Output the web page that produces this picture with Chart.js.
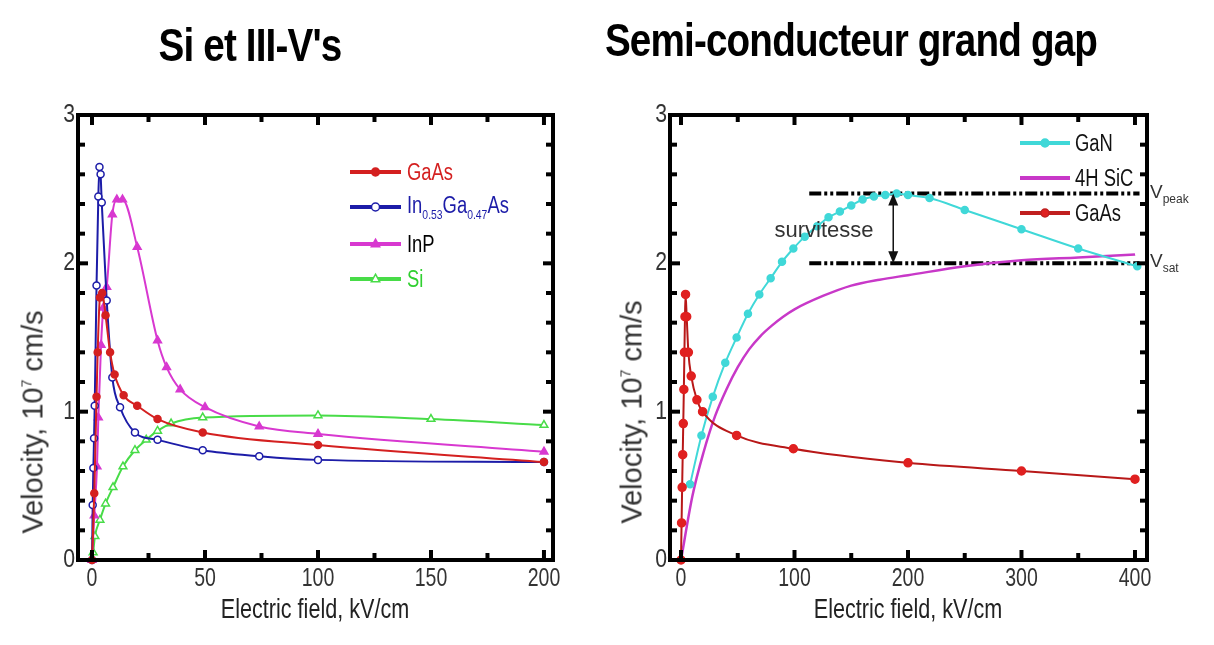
<!DOCTYPE html>
<html>
<head>
<meta charset="utf-8">
<script src="https://cdn.jsdelivr.net/npm/chart.js@4.4.1/dist/chart.umd.min.js"></script>
<style>
    body { margin: 0; width: 1214px; height: 645px; overflow: hidden; position: relative; background: #fff; font-family: Arial, "Liberation Sans", sans-serif; }
    canvas { position: absolute; top: 0; }
    #left-chart { left: 0; }
    #right-chart { left: 607px; }
    .txt { position: absolute; white-space: nowrap; line-height: 1; }
    .center { transform: translate(-50%, -50%) scaleX(0.8); }
    .lefty { transform-origin: 0 50%; transform: translate(0, -50%) scaleX(0.8); }
    .title { font-weight: bold; font-size: 46px; color: #000; letter-spacing: -1px; transform: translate(-50%, -50%) scaleX(0.84); }
    .xtitle { font-size: 27px; color: #222; }
    .ytitle { font-size: 29px; color: #333; transform: translate(-50%, -50%) rotate(-90deg); }
    .ytitle sup { font-size: 14px; }
    .leg { font-size: 23px; }
    .leg sub { font-size: 13px; vertical-align: -6px; }
    .note { font-size: 22px; color: #333; transform: translate(-50%, -50%); }
    .vlab { font-size: 19px; color: #333; transform: translate(0, -50%); }
    .vlab sub { font-size: 12px; vertical-align: -5px; }
</style>
</head>
<body>
<canvas id="left-chart" width="607" height="645"></canvas>
<canvas id="right-chart" width="607" height="645"></canvas>

<div class="txt title" style="left:250px; top:45px;">Si et III-V's</div>
<div class="txt title" style="left:851px; top:40px;">Semi-conducteur grand gap</div>

<div class="txt ytitle" style="left:33px; top:422px;">Velocity, 10<sup>7</sup> cm/s</div>
<div class="txt ytitle" style="left:632px; top:412px;">Velocity, 10<sup>7</sup> cm/s</div>
<div class="txt xtitle center" style="left:315px; top:609px;">Electric field, kV/cm</div>
<div class="txt xtitle center" style="left:908px; top:609px;">Electric field, kV/cm</div>

<div class="txt leg lefty" style="left:407px; top:172px; color:#d42020;">GaAs</div>
<div class="txt leg lefty" style="left:407px; top:207px; color:#1c1ca8;">In<sub>0.53</sub>Ga<sub>0.47</sub>As</div>
<div class="txt leg lefty" style="left:407px; top:244px; color:#000;">InP</div>
<div class="txt leg lefty" style="left:407px; top:279px; color:#30d030;">Si</div>

<div class="txt leg lefty" style="left:1075px; top:143px; color:#111;">GaN</div>
<div class="txt leg lefty" style="left:1075px; top:178px; color:#111;">4H SiC</div>
<div class="txt leg lefty" style="left:1075px; top:213px; color:#111;">GaAs</div>

<div class="txt note" style="left:824px; top:230px;">survitesse</div>
<div class="txt vlab" style="left:1150px; top:193px;">V<sub>peak</sub></div>
<div class="txt vlab" style="left:1150px; top:262px;">V<sub>sat</sub></div>

<script>
// left panel: Si and III-V (field in kV/cm, velocity in 1e7 cm/s)
const leftXTicks = [0, 50, 100, 150, 200];
const leftYTicks = [0, 1, 2, 3];

const gaasE = [0, 1, 2, 2.5, 3.5, 4.5, 6, 8, 10, 14, 20, 29, 49, 100, 200];
const gaasV = [0, 0.45, 1.1, 1.4, 1.77, 1.8, 1.65, 1.4, 1.25, 1.11, 1.04, 0.95, 0.86, 0.775, 0.66];

const ingaasE = [0, 0.3, 0.6, 0.9, 1.2, 2, 2.8, 3.3, 3.8, 4.3, 6.5, 9, 12.4, 19, 29, 49, 74, 100, 200];
const ingaasV = [0, 0.37, 0.62, 0.82, 1.04, 1.85, 2.45, 2.65, 2.6, 2.41, 1.75, 1.23, 1.03, 0.86, 0.81, 0.74, 0.70, 0.675, 0.66];

const inpE = [0, 1, 2.2, 2.8, 4, 5, 6.5, 9, 11, 13.5, 20, 29, 33, 39, 50, 74, 100, 200];
const inpV = [0, 0.3, 0.63, 0.96, 1.45, 1.7, 1.84, 2.33, 2.43, 2.43, 2.11, 1.48, 1.30, 1.15, 1.03, 0.90, 0.85, 0.73];

const siE = [0, 0.5, 1.3, 3.5, 6, 9.3, 13.7, 19, 24, 29, 35, 49, 100, 150, 200];
const siV = [0, 0.05, 0.16, 0.27, 0.38, 0.49, 0.63, 0.74, 0.81, 0.87, 0.92, 0.96, 0.975, 0.95, 0.91];

// right panel: wide gap
const rightXTicks = [0, 100, 200, 300, 400];
const rightYTicks = [0, 1, 2, 3];

const ganE = [8, 18, 28, 39, 49, 59, 69, 79, 89, 99, 109, 120, 130, 140, 150, 160, 170, 180, 190, 200, 219, 250, 300, 350, 402];
const ganV = [0.51, 0.84, 1.10, 1.33, 1.50, 1.66, 1.79, 1.90, 2.01, 2.10, 2.18, 2.25, 2.31, 2.35, 2.39, 2.43, 2.45, 2.46, 2.47, 2.46, 2.44, 2.36, 2.23, 2.10, 1.98];

const sicE = [0, 10, 20, 30, 40, 50, 60, 70, 80, 90, 100, 125, 150, 175, 200, 250, 300, 350, 400];
const sicV = [0, 0.43, 0.73, 0.97, 1.15, 1.30, 1.42, 1.51, 1.58, 1.64, 1.69, 1.78, 1.85, 1.89, 1.92, 1.98, 2.02, 2.04, 2.06];

const gaasRightE = [0, 0.5, 1, 1.5, 2, 2.5, 3, 3.5, 4, 5, 6.5, 9, 14, 19, 49, 99, 200, 300, 400];
const gaasRightV = [0, 0.25, 0.49, 0.71, 0.92, 1.15, 1.40, 1.64, 1.79, 1.64, 1.40, 1.24, 1.08, 1.00, 0.84, 0.75, 0.655, 0.60, 0.545];

// overshoot markers
const overshootE = [113, 404];
const vPeak = 2.47;
const vSat = 2.0;
const arrowE = 187;

const toPoints = (xs, ys) => xs.map((x, i) => ({ x, y: ys[i] }));

function drawMarker(ctx, style, x, y, r, color, fill) {
    ctx.beginPath();
    if (style === 'circle') {
        ctx.arc(x, y, r, 0, Math.PI * 2);
    } else {
        ctx.moveTo(x, y - r * 1.2);
        ctx.lineTo(x + r * 1.05, y + r * 0.7);
        ctx.lineTo(x - r * 1.05, y + r * 0.7);
        ctx.closePath();
    }
    ctx.fillStyle = fill;
    ctx.fill();
    ctx.lineWidth = 1.5;
    ctx.strokeStyle = color;
    ctx.stroke();
}

// thick box, inward ticks on all sides, tick labels
const framePlugin = {
    id: 'frame',
    afterDraw(chart, args, opts) {
        const { ctx, chartArea: a, scales: { x, y } } = chart;
        ctx.save();
        ctx.strokeStyle = '#000';
        ctx.lineWidth = 4;
        ctx.strokeRect(a.left, a.top, a.right - a.left, a.bottom - a.top);

        ctx.lineWidth = 4;
        ctx.lineCap = 'butt';
        const tick = (x1, y1, x2, y2) => { ctx.beginPath(); ctx.moveTo(x1, y1); ctx.lineTo(x2, y2); ctx.stroke(); };
        for (let v = 0; v <= opts.xMax + 1e-6; v += opts.xMinor) {
            const px = x.getPixelForValue(v);
            const len = Math.abs(v % opts.xMajor) < 1e-6 ? 10 : 7;
            tick(px, a.bottom, px, a.bottom - len);
            tick(px, a.top, px, a.top + len);
        }
        for (let v = 0; v <= 3 + 1e-6; v += 0.2) {
            const py = y.getPixelForValue(v);
            const len = Math.abs(v - Math.round(v)) < 1e-6 ? 10 : 7;
            tick(a.left, py, a.left + len, py);
            tick(a.right, py, a.right - len, py);
        }

        ctx.fillStyle = '#333';
        ctx.font = '25px Arial, "Liberation Sans", sans-serif';
        ctx.textBaseline = 'middle';
        opts.xTicks.forEach(v => {
            ctx.save();
            ctx.translate(x.getPixelForValue(v), a.bottom + 19);
            ctx.scale(0.78, 1);
            ctx.textAlign = 'center';
            ctx.fillText(String(v), 0, 0);
            ctx.restore();
        });
        opts.yTicks.forEach(v => {
            ctx.save();
            ctx.translate(a.left - 3, y.getPixelForValue(v));
            ctx.scale(0.85, 1);
            ctx.textAlign = 'right';
            ctx.fillText(String(v), 0, 0);
            ctx.restore();
        });
        ctx.restore();
    }
};

// legend samples (line + marker), labels are html
const samplePlugin = {
    id: 'samples',
    afterDraw(chart, args, opts) {
        const ctx = chart.ctx;
        opts.items.forEach(it => {
            ctx.save();
            ctx.strokeStyle = it.color;
            ctx.lineWidth = 4;
            ctx.beginPath();
            ctx.moveTo(opts.x0, it.y);
            ctx.lineTo(opts.x1, it.y);
            ctx.stroke();
            if (it.style) drawMarker(ctx, it.style, (opts.x0 + opts.x1) / 2, it.y, 4, it.color, it.fill);
            ctx.restore();
        });
    }
};

// double arrow between v_peak and v_sat
const arrowPlugin = {
    id: 'overshootArrow',
    afterDatasetsDraw(chart, args, opts) {
        if (!opts.show) return;
        const { ctx, scales: { x, y } } = chart;
        const px = x.getPixelForValue(arrowE);
        const yt = y.getPixelForValue(vPeak);
        const yb = y.getPixelForValue(vSat);
        ctx.save();
        ctx.strokeStyle = '#111';
        ctx.fillStyle = '#111';
        ctx.lineWidth = 1.5;
        ctx.beginPath(); ctx.moveTo(px, yt + 8); ctx.lineTo(px, yb - 8); ctx.stroke();
        ctx.beginPath(); ctx.moveTo(px, yt); ctx.lineTo(px - 5, yt + 12); ctx.lineTo(px + 5, yt + 12); ctx.closePath(); ctx.fill();
        ctx.beginPath(); ctx.moveTo(px, yb); ctx.lineTo(px - 5, yb - 12); ctx.lineTo(px + 5, yb - 12); ctx.closePath(); ctx.fill();
        ctx.restore();
    }
};

Chart.register(framePlugin, samplePlugin, arrowPlugin);

const baseLine = {
    showLine: true,
    borderWidth: 2,
    cubicInterpolationMode: 'monotone',
    clip: false,
    pointBorderWidth: 1.5
};

function makeChart(id, datasets, xr, pad, frame, samples, arrow) {
    return new Chart(document.getElementById(id), {
        type: 'scatter',
        data: { datasets },
        options: {
            responsive: false,
            animation: false,
            events: [],
            layout: { padding: pad },
            scales: {
                x: { type: 'linear', min: xr[0], max: xr[1], display: false },
                y: { type: 'linear', min: 0, max: 3, display: false }
            },
            plugins: {
                legend: { display: false },
                tooltip: { enabled: false },
                frame,
                samples,
                overshootArrow: { show: arrow }
            }
        }
    });
}

makeChart('left-chart', [
    { ...baseLine, data: toPoints(gaasE, gaasV), borderColor: '#d42020', backgroundColor: '#d42020', pointStyle: 'circle', pointRadius: 3.5 },
    { ...baseLine, data: toPoints(ingaasE, ingaasV), borderColor: '#1c1ca8', backgroundColor: '#ffffff', pointStyle: 'circle', pointRadius: 3.5 },
    { ...baseLine, data: toPoints(inpE, inpV), borderColor: '#d838d0', backgroundColor: '#d838d0', pointStyle: 'triangle', pointRadius: 4.5 },
    { ...baseLine, data: toPoints(siE, siV), borderColor: '#48dc48', backgroundColor: '#ffffff', pointStyle: 'triangle', pointRadius: 4.5 }
], [-6.2, 204], { left: 78, right: 54, top: 115, bottom: 85 },
    { xTicks: leftXTicks, yTicks: leftYTicks, xMajor: 50, xMinor: 25, xMax: 200 },
    { x0: 350, x1: 401, items: [
        { y: 172, color: '#d42020', style: 'circle', fill: '#d42020' },
        { y: 207, color: '#1c1ca8', style: 'circle', fill: '#ffffff' },
        { y: 244, color: '#d838d0', style: 'triangle', fill: '#d838d0' },
        { y: 279, color: '#48dc48', style: 'triangle', fill: '#ffffff' }
    ] }, false);

const dashed = {
    showLine: true,
    borderColor: '#000',
    borderWidth: 4,
    borderDash: [12, 3, 3, 3, 3, 3],
    pointRadius: 0,
    clip: false
};

makeChart('right-chart', [
    { ...baseLine, data: toPoints(gaasRightE, gaasRightV), borderColor: '#b81818', backgroundColor: '#e02020', pointBorderColor: '#e02020', pointStyle: 'circle', pointRadius: 4 },
    { ...baseLine, data: toPoints(ganE, ganV), borderColor: '#40d8d8', backgroundColor: '#40d8d8', pointStyle: 'circle', pointRadius: 3.5 },
    { ...baseLine, data: toPoints(sicE, sicV), borderColor: '#c838c8', pointRadius: 0, borderWidth: 2.5 },
    { ...dashed, data: toPoints(overshootE, [vPeak, vPeak]) },
    { ...dashed, data: toPoints(overshootE, [vSat, vSat]) }
], [-9.7, 410.6], { left: 63, right: 67, top: 115, bottom: 85 },
    { xTicks: rightXTicks, yTicks: rightYTicks, xMajor: 100, xMinor: 50, xMax: 400 },
    { x0: 413, x1: 463, items: [
        { y: 143, color: '#40d8d8', style: 'circle', fill: '#40d8d8' },
        { y: 178, color: '#c838c8' },
        { y: 213, color: '#c02020', style: 'circle', fill: '#e02020' }
    ] }, true);
</script>
</body>
</html>
